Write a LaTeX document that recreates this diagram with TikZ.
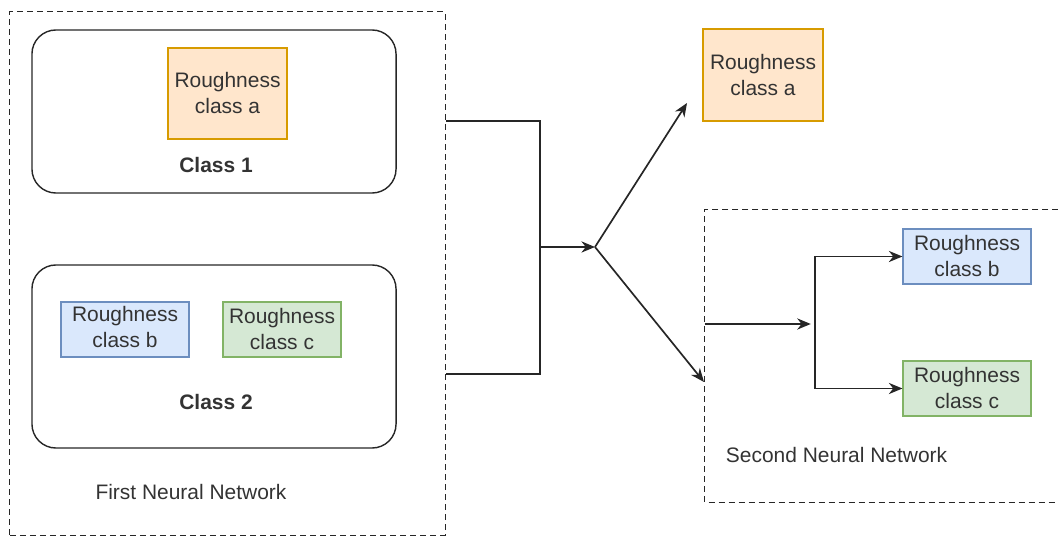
\documentclass[tikz,border=0pt]{standalone}
\usepackage{tikz}
\usepackage{fontspec}
\setmainfont{Liberation Sans}
\usetikzlibrary{arrows.meta}

\definecolor{txtgray}{HTML}{333333}
\definecolor{orfill}{HTML}{FFE6CC}
\definecolor{ordraw}{HTML}{D79B00}
\definecolor{blfill}{HTML}{DAE8FC}
\definecolor{bldraw}{HTML}{6C8EBF}
\definecolor{grfill}{HTML}{D5E8D4}
\definecolor{grdraw}{HTML}{82B366}

\tikzset{
  netbox/.style={draw=black!85, line width=0.7pt, dash pattern=on 0.15cm off 0.1cm, inner sep=0},
  netline/.style={draw=black!85, line width=0.7pt, dash pattern=on 0.15cm off 0.1cm},
  classbox/.style={draw=black!85, line width=1pt, rounded corners=0.6cm, inner sep=0},
  roughbox/.style={line width=0.8pt, inner sep=0, align=center, text=txtgray,
    font=\fontsize{14.9}{18.5}\selectfont},
  boxA/.style={roughbox, fill=orfill, draw=ordraw},
  boxB/.style={roughbox, fill=blfill, draw=bldraw},
  boxC/.style={roughbox, fill=grfill, draw=grdraw},
  label/.style={text=txtgray, font=\fontsize{14.9}{18.5}\selectfont},
  conn/.style={draw=black!85, line width=1.2pt},
  arrow/.style={conn, -{Stealth[length=0.34cm, width=0.28cm]}}
}

\begin{document}
\begin{tikzpicture} [x=0.025cm, y=-0.025cm]
\useasboundingbox (0,0) rectangle (1058,536);
\node[netbox, minimum width=10.875cm, minimum height=13.075cm] (fnn) at (227.5, 273.5){};
\node[inner sep=0, minimum width=8.825cm, minimum height=7.3cm] (snn) at (881.5, 356){};
\draw[netline] (snn.north east) -- (snn.north west) -- (snn.south west) -- (snn.south east);
\node[classbox, minimum width=9.1cm, minimum height=4.075cm] (cls1) at (214, 111.5){};
\node[classbox, minimum width=9.1cm, minimum height=4.575cm] (cls2) at (214, 356.5){};
\node[boxA, minimum width=2.975cm, minimum height=2.275cm] (la) at (227.5, 93.5){Roughness\\class a};
\node[label, font=\fontsize{14.9}{18.5}\selectfont\bfseries] (c1) at (216, 165){Class 1};
\node[boxB, minimum width=3.2cm, minimum height=1.375cm] (lb) at (125, 329.5){Roughness\\class b\vphantom{$_g$}};
\node[boxC, minimum width=2.95cm, minimum height=1.375cm] (lc) at (282, 329.5){Roughness\\class c};
\node[label, font=\fontsize{14.9}{18.5}\selectfont\bfseries] (c2) at (216, 402){Class 2};
\node[label] (fnnlabel) at (191, 492){First Neural Network};
\node[boxA, minimum width=3cm, minimum height=2.3cm] (ra) at (763, 75){Roughness\\class a};
\node[boxB, minimum width=3.2cm, minimum height=1.375cm] (rb) at (967, 256.5){Roughness\\class b};
\node[boxC, minimum width=3.2cm, minimum height=1.375cm] (rc) at (967, 388.5){Roughness\\class c};
\node[label, anchor=west] (snnlabel) at (721, 455){Second Neural Network};

\coordinate (join) at (540, 247);
\coordinate (split) at (595, 247);
\coordinate (tipA) at (687, 103);
\coordinate (tipB) at (704, 382);
\coordinate (fork) at (815, 324);

\draw[conn] (fnn.east |- 0,121) -| (join) |- (fnn.east |- 0,374);
\draw[arrow] (join) -- (split);
\draw[arrow] (split) -- (tipA);
\draw[arrow] (split) -- (tipB);
\draw[arrow] (snn.west |- fork) -- ([xshift=-3]fork);
\draw[arrow] (fork) |- (rb.west);
\draw[arrow] (fork) |- (rc.west);
\end{tikzpicture}
\end{document}
